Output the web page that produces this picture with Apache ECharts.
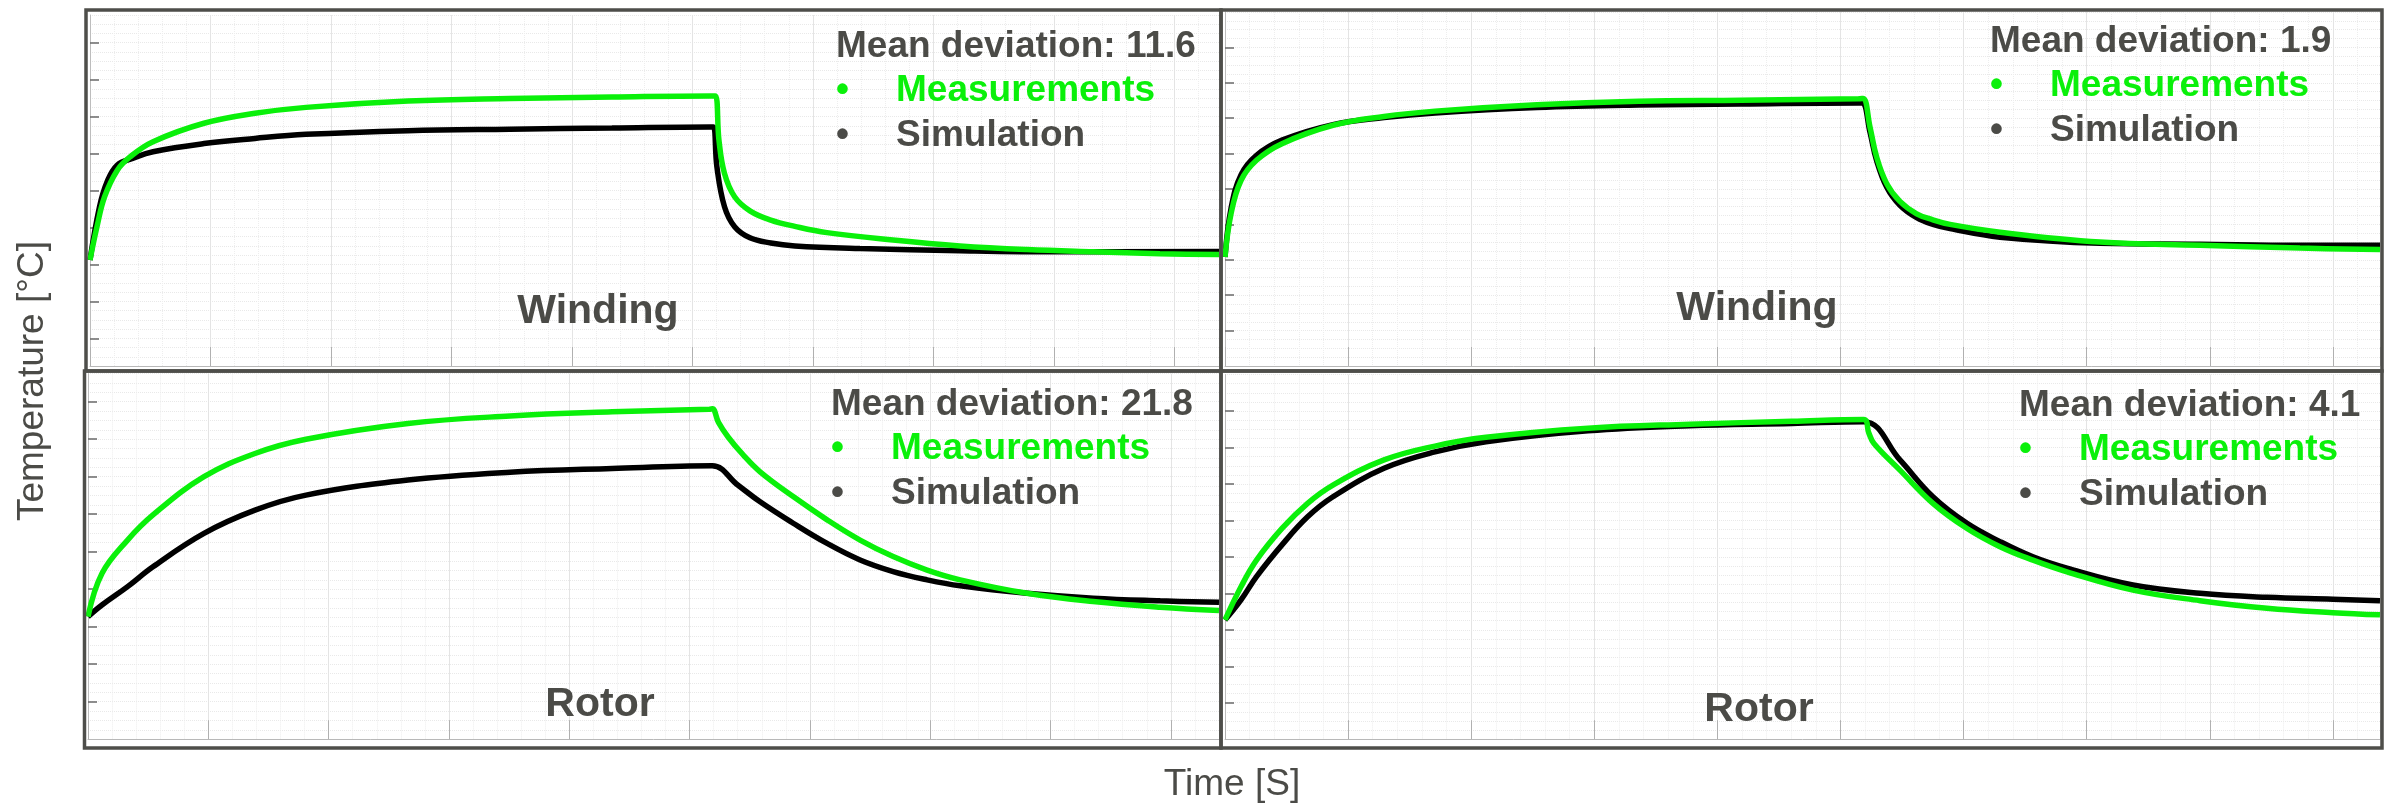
<!DOCTYPE html>
<html>
<head>
<meta charset="utf-8">
<script src="https://cdn.jsdelivr.net/npm/echarts@6/dist/echarts.min.js"></script>
<style>
html,body{margin:0;padding:0;background:#ffffff;}
#chart{width:2387px;height:805px;}
</style>
</head>
<body>
<div id="chart"></div>
<script>
// ---------------- DATA ----------------
const panelNames = ['Winding', 'Winding', 'Rotor', 'Rotor'];
const meanDeviation = ['11.6', '1.9', '21.8', '4.1'];
const seriesNames = ['Measurements', 'Simulation'];
const yAxisTitle = 'Temperature [°C]';
const xAxisTitle = 'Time [S]';
const yTickValues = [20, 30, 40, 50, 60, 70, 80, 90, 100];
const xTickInterval = 1000;
const xMax = [9370, 9383, 9400, 9383];
const yMin = [12.5, 10, 10, 10];
const yMax = [107.5, 110, 107.5, 110];

// [time, temperature]
const windingMeasLeft = [[0,41.2],[58,50.2],[121,58.3],[227,65.5],[332,69.1],[523,73.2],[946,78.2],[1369,80.9],[1793,82.5],[2639,84.2],[3485,84.9],[4332,85.3],[5150,85.6],[5190,85.6],[5220,73.6],[5266,64.6],[5350,58.3],[5477,54.5],[5650,52],[5850,50.3],[6116,48.6],[6664,46.6],[7220,45],[7776,44],[8324,43.4],[8880,42.9],[9370,42.7]];
const windingSimLeft = [[0,41.2],[79,55.6],[141,62.3],[227,66.9],[354,68.7],[523,70.5],[946,72.7],[1369,74.1],[1793,75.2],[2639,76.2],[3485,76.6],[4332,76.9],[5150,77.2],[5175,77.2],[5203,66.4],[5266,55.6],[5350,50.2],[5477,47.2],[5650,45.8],[5850,45],[6390,44.3],[7220,43.7],[8050,43.4],[9370,43.5]];
const windingMeasRight = [[0,40.8],[49,53],[130,62.4],[256,68.1],[463,72.8],[877,78],[1292,80.5],[1706,82],[2535,83.8],[3363,84.8],[4192,85.1],[5147,85.5],[5185,85.6],[5240,77.5],[5294,69],[5376,61.5],[5483,56.5],[5619,53],[5751,51.3],[5890,50],[6296,47.8],[7108,45],[7921,44.1],[8733,43.3],[9383,42.9]];
const windingSimRight = [[0,40.8],[49,54.5],[130,64],[256,69.5],[463,73.8],[877,78.2],[1292,80.2],[1706,81.5],[2535,83],[3363,83.7],[4192,84],[5147,84.3],[5180,84.3],[5240,76],[5294,68],[5376,60.5],[5483,55.4],[5619,51.9],[5751,50],[5890,48.8],[6296,46.4],[7108,44.7],[7921,44.4],[8733,44.1],[9383,44.1]];
const rotorMeasLeft = [[0,42.7],[116,54.2],[329,63.1],[540,69.8],[964,80],[1388,86.2],[1812,90],[2660,94.2],[3508,96.2],[4356,97.3],[5162,98],[5190,98.1],[5240,94.5],[5320,90.6],[5440,86],[5586,81.3],[5861,74.7],[6143,68.5],[6417,63.1],[6692,58.7],[6974,55.1],[7249,52.5],[7806,48.9],[8354,46.7],[8911,45.2],[9400,44.3]];
const rotorSimLeft = [[0,42.7],[116,45.8],[329,50.7],[540,56],[964,64.9],[1388,71.1],[1812,75.1],[2660,79.1],[3508,81.2],[4356,82.2],[5187,82.9],[5400,77.8],[5586,73.3],[5861,67.6],[6143,62.2],[6417,57.8],[6692,54.7],[6974,52.5],[7249,50.9],[7806,48.9],[8354,47.6],[8911,46.9],[9400,46.5]];
const rotorMeasRight = [[0,42.7],[130,51.8],[256,59.1],[463,67.8],[671,74.7],[877,79.7],[1292,86.6],[1706,90.4],[2120,92.8],[2949,95.3],[3777,96.4],[4606,97.2],[5188,97.7],[5230,94],[5272,91.1],[5483,83.8],[5751,74.7],[6028,67.8],[6296,62.8],[6564,59.1],[6840,55.9],[7376,50.9],[7921,48],[8465,45.9],[9001,44.7],[9383,44.1]];
const rotorSimRight = [[0,42.7],[130,48.2],[256,54.6],[463,63.3],[671,71],[877,76.5],[1292,84.3],[1706,88.8],[2120,91.6],[2949,94.6],[3777,96],[4606,96.6],[5188,97.1],[5483,86.6],[5751,76.5],[6028,69.2],[6296,64.2],[6564,60],[6840,56.9],[7376,52.3],[7921,50],[8465,48.9],[9001,48.4],[9383,48]];

const measData = [windingMeasLeft, windingMeasRight, rotorMeasLeft, rotorMeasRight];
const simData = [windingSimLeft, windingSimRight, rotorSimLeft, rotorSimRight];

// ---------------- LAYOUT / STYLE ----------------
const GREEN = '#0af00a';
const DARK = '#4b4b47';
const FONT = '"Liberation Sans", Arial, Helvetica, sans-serif';
const grids = [
  {left: 90, top: 15, width: 1129, height: 351},
  {left: 1225, top: 12, width: 1155, height: 354},
  {left: 88, top: 373.6, width: 1131, height: 365.6},
  {left: 1225, top: 374.6, width: 1155, height: 364.6}
];
const legendAnchor = [[836, 59], [1990, 54], [831, 417], [2019, 418]];
const nameAnchor = [[598, 325], [1757, 322], [600, 718], [1759, 723]];
const frames = [
  [86, 10, 1135, 361], [1221, 10, 1161, 361],
  [84.5, 371, 1136.5, 377], [1221, 371, 1161, 377]
];

const xAxes = [], yAxes = [], series = [], graphics = [];
for (let i = 0; i < 4; i++) {
  xAxes.push({
    type: 'value', gridIndex: i, min: 0, max: xMax[i], interval: xTickInterval,
    axisLine: {show: true, onZero: false, lineStyle: {color: '#b8b8b8', width: 1}},
    axisTick: {show: true, inside: true, length: 19, lineStyle: {color: '#b0b0b0', width: 1}},
    axisLabel: {show: false},
    splitLine: {show: true, lineStyle: {color: '#e4e4e4', width: 1}},
    minorTick: {show: false, splitNumber: 5},
    minorSplitLine: {show: true, lineStyle: {color: '#eeeeee', width: 1, type: 'dotted'}}
  });
  yAxes.push({
    type: 'value', gridIndex: i, min: yMin[i], max: yMax[i], interval: 2.5, position: 'left', offset: 0,
    axisLine: {show: true, onZero: false, lineStyle: {color: '#bdbdbd', width: 1}},
    axisTick: {show: false}, axisLabel: {show: false},
    splitLine: {show: true, lineStyle: {color: '#e9e9e9', width: 1, type: 'dotted'}}
  });
  yAxes.push({
    type: 'value', gridIndex: i, min: yMin[i], max: yMax[i], position: 'left', offset: 0,
    axisLine: {show: false},
    axisTick: {show: true, inside: true, length: 9, customValues: yTickValues, lineStyle: {color: '#6a6a6a', width: 1.5}},
    axisLabel: {show: false, customValues: yTickValues},
    splitLine: {show: false}
  });
  series.push({
    name: seriesNames[1], type: 'line', xAxisIndex: i, yAxisIndex: 2 * i, data: simData[i],
    symbol: 'none', showSymbol: false, smooth: 0.4, silent: true, z: 3,
    lineStyle: {color: '#000000', width: 5.5}, itemStyle: {color: '#000000'}
  });
  series.push({
    name: seriesNames[0], type: 'line', xAxisIndex: i, yAxisIndex: 2 * i, data: measData[i],
    symbol: 'none', showSymbol: false, smooth: 0.4, silent: true, z: 4,
    lineStyle: {color: GREEN, width: 5.5}, itemStyle: {color: GREEN}
  });

  const [lx, ly] = legendAnchor[i];
  const bold = 'bold 37px ' + FONT;
  graphics.push({type: 'text', z: 50, style: {text: 'Mean deviation: ' + meanDeviation[i], x: lx, y: ly - 12, font: bold, fill: DARK, align: 'left', verticalAlign: 'middle'}});
  graphics.push({type: 'text', z: 50, style: {text: '•', x: lx, y: ly + 44 - 12, font: bold, fill: GREEN, align: 'left', verticalAlign: 'middle'}});
  graphics.push({type: 'text', z: 50, style: {text: seriesNames[0], x: lx + 60, y: ly + 44 - 12, font: bold, fill: GREEN, align: 'left', verticalAlign: 'middle'}});
  graphics.push({type: 'text', z: 50, style: {text: '•', x: lx, y: ly + 89 - 12, font: bold, fill: DARK, align: 'left', verticalAlign: 'middle'}});
  graphics.push({type: 'text', z: 50, style: {text: seriesNames[1], x: lx + 60, y: ly + 89 - 12, font: bold, fill: DARK, align: 'left', verticalAlign: 'middle'}});

  const [nx, ny] = nameAnchor[i];
  graphics.push({type: 'text', z: 50, style: {text: panelNames[i], x: nx, y: ny - 13, font: 'bold 41px ' + FONT, fill: DARK, align: 'center', verticalAlign: 'middle'}});

  const f = frames[i];
  graphics.push({type: 'rect', z: 60, shape: {x: f[0], y: f[1], width: f[2], height: f[3]}, style: {fill: 'none', stroke: '#4e4e4a', lineWidth: 3.5}});
}

graphics.push({type: 'text', z: 50, x: 33, y: 381, rotation: Math.PI / 2,
  style: {text: yAxisTitle, x: 0, y: 0, font: '37px ' + FONT, fill: DARK, align: 'center', verticalAlign: 'middle'}});
graphics.push({type: 'text', z: 50, style: {text: xAxisTitle, x: 1232, y: 785, font: '37px ' + FONT, fill: DARK, align: 'center', verticalAlign: 'middle'}});

const chart = echarts.init(document.getElementById('chart'), null, {renderer: 'canvas'});
chart.setOption({
  backgroundColor: '#ffffff',
  animation: false,
  grid: grids,
  xAxis: xAxes,
  yAxis: yAxes,
  series: series,
  graphic: graphics
});
</script>
</body>
</html>
